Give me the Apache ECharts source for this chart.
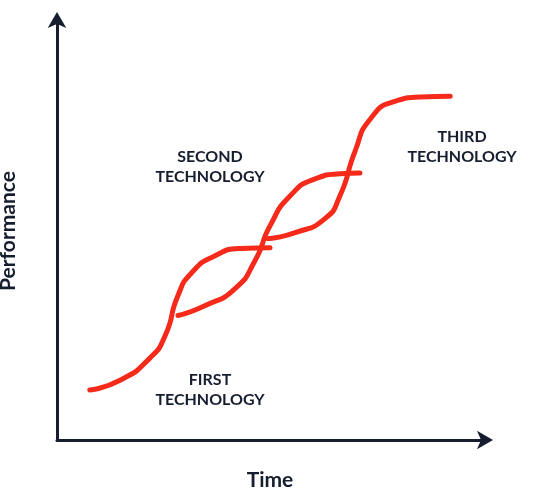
<!DOCTYPE html>
<html><head><meta charset="utf-8">
<script src="https://cdn.jsdelivr.net/npm/echarts@6/dist/echarts.min.js"></script>
<style>html,body{margin:0;padding:0;background:#fff}#c{width:540px;height:492px}</style>
</head><body><div id="c"></div>
<script>
const first = [[7.7,11.7],[14.8,14.0],[21.8,19.2],[25.4,24.5],[28.4,33.9],[31.7,39.3],[37.1,43.2],[43.0,44.9],[50.0,45.1]];
const second = [[28.4,29.2],[34.7,31.5],[41.8,35.5],[46.5,42.1],[50.0,50.2],[54.7,57.2],[60.6,61.2],[66.4,62.4],[71.1,62.6]];
const third = [[49.5,47.2],[55.9,48.6],[62.9,51.9],[66.4,57.2],[70.0,67.8],[73.5,75.2],[79.3,79.4],[85.2,80.4],[92.3,80.6]];
const labels = [
  {text:'FIRST\nTECHNOLOGY', x:210, y:390},
  {text:'SECOND\nTECHNOLOGY', x:210, y:167},
  {text:'THIRD\nTECHNOLOGY', x:462, y:147}
];
const ax = {lineStyle:{color:'#161d2f',width:3}, symbol:['none','arrow'], symbolSize:[14,16], symbolOffset:[0,10]};
const chart = echarts.init(document.getElementById('c'));
const mk = (d)=>({type:'line',data:d,smooth:0.6,showSymbol:false,lineStyle:{color:'#f52a1a',width:5,cap:'round'}});
chart.setOption({
  animation:false,
  grid:{left:57,right:57,top:22,bottom:52,containLabel:false,outerBoundsMode:'none'},
  xAxis:{type:'value',min:0,max:100,axisLine:ax,axisTick:{show:false},axisLabel:{show:false},splitLine:{show:false},
    name:'Time',nameLocation:'middle',nameGap:30,nameTextStyle:{fontFamily:'Lato',fontWeight:'bold',fontSize:21,color:'#161d2f'}},
  yAxis:{type:'value',min:0,max:98,axisLine:ax,axisTick:{show:false},axisLabel:{show:false},splitLine:{show:false},
    name:'Performance',nameLocation:'middle',nameGap:38,nameTextStyle:{fontFamily:'Lato',fontWeight:'bold',fontSize:21,color:'#161d2f'}},
  series:[mk(first),mk(second),mk(third)],
  graphic: labels.map(l=>({type:'text',x:l.x,y:l.y,style:{text:l.text,align:'center',verticalAlign:'middle',fontFamily:'Lato',fontWeight:'bold',fontSize:16,lineHeight:20,fill:'#161d2f'}}))
});
</script></body></html>
